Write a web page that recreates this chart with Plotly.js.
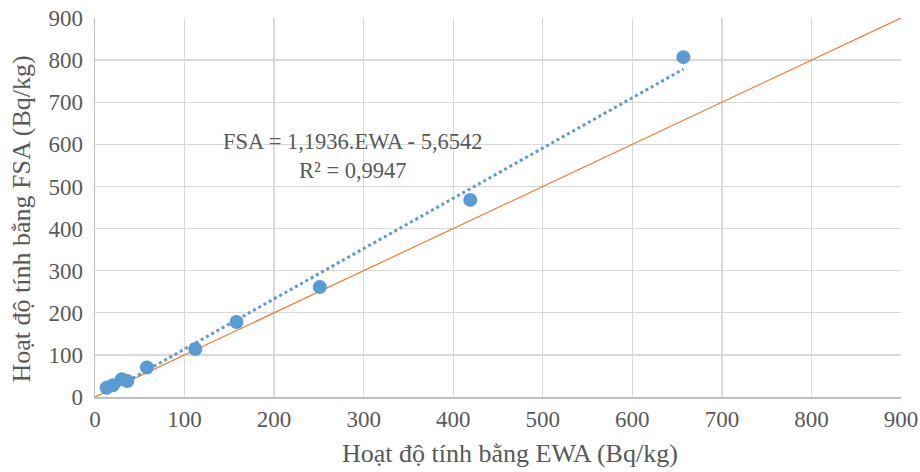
<!DOCTYPE html>
<html>
<head>
<meta charset="utf-8">
<script src="https://cdn.plot.ly/plotly-3.0.1.min.js"></script>
<style>html,body{margin:0;padding:0;background:#fff;}#chart{width:920px;height:472px;}</style>
</head>
<body>
<div id="chart"></div>
<script>
const ewa = [13, 20, 30, 36, 58, 112, 158, 251, 419, 657];
const fsa = [22, 28, 42, 38, 70, 114, 178, 261, 468, 807];
const slope = 1.1936;
const intercept = -5.6542;
const identityX = [0, 900];
const identityY = [0, 900];
const xTicks = [0, 100, 200, 300, 400, 500, 600, 700, 800, 900];
const yTicks = [0, 100, 200, 300, 400, 500, 600, 700, 800, 900];
const xTitle = 'Hoạt độ tính bằng EWA (Bq/kg)';
const yTitle = 'Hoạt độ tính bằng FSA (Bq/kg)';

const xMin = Math.min(...ewa), xMax = Math.max(...ewa);
const trendX = [xMin, xMax];
const trendY = trendX.map(v => slope * v + intercept);

const traces = [
  {x: identityX, y: identityY, mode: 'lines', line: {color: '#ED7D31', width: 1.2}, hoverinfo: 'skip'},
  {x: trendX, y: trendY, mode: 'lines', line: {color: '#5B9BD5', width: 3, dash: 'dot'}},
  {x: ewa, y: fsa, mode: 'markers', marker: {color: '#5B9BD5', size: 14}}
];

const fam = 'Liberation Serif, Times New Roman, serif';
const layout = {
  width: 920, height: 472,
  margin: {l: 95, r: 19, t: 18, b: 75},
  showlegend: false,
  paper_bgcolor: '#fff', plot_bgcolor: '#fff',
  font: {family: fam, color: '#595959'},
  xaxis: {
    range: [0, 900], tickvals: xTicks, ticktext: xTicks.map(String),
    showgrid: true, gridcolor: '#d9d9d9', gridwidth: 1.3,
    showline: true, linecolor: '#bfbfbf', linewidth: 1.5,
    zeroline: false, ticks: '', ticklabelstandoff: 1,
    tickfont: {family: fam, size: 23, color: '#595959'}
  },
  yaxis: {
    range: [0, 900], tickvals: yTicks, ticktext: yTicks.map(String),
    showgrid: true, gridcolor: '#d9d9d9', gridwidth: 1.3,
    showline: true, linecolor: '#bfbfbf', linewidth: 1.5,
    zeroline: false, ticks: '', ticklabelstandoff: 6,
    tickfont: {family: fam, size: 23, color: '#595959'}
  },
  annotations: [
    {
      x: 288, y: 572, xref: 'x', yref: 'y',
      text: 'FSA = 1,1936.EWA - 5,6542<br>R² = 0,9947',
      showarrow: false, align: 'center',
      font: {family: fam, size: 22.5, color: '#595959'}
    },
    {
      x: 0.515, y: -0.148, xref: 'paper', yref: 'paper',
      xanchor: 'center', yanchor: 'middle',
      text: xTitle, showarrow: false,
      font: {family: fam, size: 26, color: '#595959'}
    },
    {
      x: -0.091, y: 0.47, xref: 'paper', yref: 'paper',
      xanchor: 'center', yanchor: 'middle', textangle: -90,
      text: yTitle, showarrow: false,
      font: {family: fam, size: 26, color: '#595959'}
    }
  ]
};

Plotly.newPlot('chart', traces, layout, {displayModeBar: false, staticPlot: true});
</script>
</body>
</html>
